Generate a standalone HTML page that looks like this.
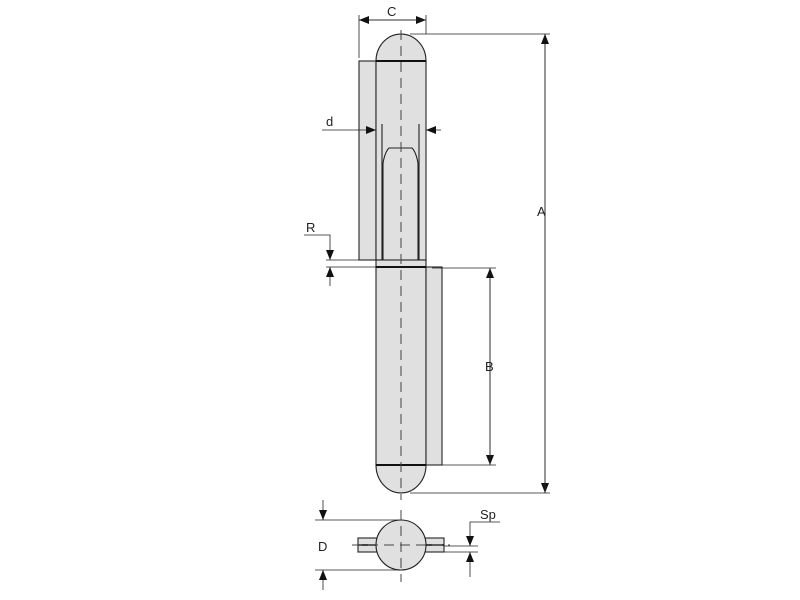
<!DOCTYPE html>
<html><head><meta charset="utf-8"><style>body{margin:0;background:#fff}svg{display:block}text{font-family:"Liberation Sans",sans-serif;font-size:13px;fill:#222}</style></head><body>
<svg width="800" height="600" viewBox="0 0 800 600" xmlns="http://www.w3.org/2000/svg">
<defs>
<marker id="ar" markerWidth="10" markerHeight="8" refX="10" refY="4" orient="auto" markerUnits="userSpaceOnUse"><path d="M0,0 L10,4 L0,8 Z" fill="#111"/></marker>
</defs>
<g stroke="#222" stroke-width="1.1" fill="#e0e0e0">
<rect x="359" y="61" width="17" height="199"/>
<rect x="376" y="61" width="50" height="199"/>
<path d="M376,61 A25,27 0 0 1 426,61 Z"/>
<line x1="382" y1="124" x2="382" y2="260"/>
<line x1="419" y1="124" x2="419" y2="260"/>
<path d="M383,260 V163 Q385,152 389,148 H412 Q416,152 418,163 V260" fill="#e0e0e0"/>
<rect x="376" y="260" width="50" height="7.5"/>
<rect x="376" y="267" width="50" height="198"/>
<rect x="426" y="267" width="16" height="198"/>
<path d="M376,465 A25,28 0 0 0 426,465 Z"/>
<rect x="358" y="538" width="86" height="14"/>
<circle cx="401" cy="545" r="25"/>
</g>
<g stroke="#111" stroke-width="2">
<line x1="376" y1="61" x2="426" y2="61"/>
<line x1="376" y1="267" x2="426" y2="267"/>
<line x1="376" y1="465" x2="426" y2="465"/>
<line x1="358" y1="545" x2="376" y2="545" stroke-width="1.5"/>
<line x1="426" y1="545" x2="444" y2="545" stroke-width="1.5"/>
</g>
<g stroke="#444" stroke-width="1" stroke-dasharray="10,6" fill="none">
<line x1="401" y1="30" x2="401" y2="500"/>
<line x1="401" y1="510" x2="401" y2="582"/>
<line x1="352" y1="545" x2="450" y2="545"/>
</g>
<g stroke="#222" stroke-width="0.8" fill="none">
<line x1="359" y1="15" x2="359" y2="58"/><line x1="426" y1="15" x2="426" y2="34"/>
<line x1="359" y1="20" x2="426" y2="20" marker-end="url(#ar)"/>
<line x1="426" y1="20" x2="359" y2="20" marker-end="url(#ar)"/>
<line x1="410" y1="34" x2="550" y2="34"/><line x1="410" y1="493" x2="550" y2="493"/>
<line x1="545" y1="34" x2="545" y2="493" marker-end="url(#ar)"/>
<line x1="545" y1="493" x2="545" y2="34" marker-end="url(#ar)"/>
<line x1="432" y1="268" x2="496" y2="268"/><line x1="432" y1="465" x2="496" y2="465"/>
<line x1="490" y1="268" x2="490" y2="465" marker-end="url(#ar)"/>
<line x1="490" y1="465" x2="490" y2="268" marker-end="url(#ar)"/>
<line x1="322" y1="130" x2="376" y2="130" marker-end="url(#ar)"/>
<line x1="441" y1="130" x2="426" y2="130" marker-end="url(#ar)"/>
<line x1="326" y1="260" x2="376" y2="260"/><line x1="326" y1="267" x2="376" y2="267"/>
<polyline points="304,235 330,235 330,260" marker-end="url(#ar)"/>
<line x1="330" y1="286" x2="330" y2="267" marker-end="url(#ar)"/>
<line x1="315" y1="520" x2="400" y2="520"/><line x1="315" y1="570" x2="400" y2="570"/>
<line x1="323" y1="500" x2="323" y2="520" marker-end="url(#ar)"/>
<line x1="323" y1="590" x2="323" y2="570" marker-end="url(#ar)"/>
<line x1="444" y1="546" x2="478" y2="546"/><line x1="444" y1="552" x2="478" y2="552"/>
<polyline points="500,522 470,522 470,546" marker-end="url(#ar)"/>
<line x1="470" y1="577" x2="470" y2="552" marker-end="url(#ar)"/>
</g>
<text x="387" y="16">C</text>
<text x="537" y="216">A</text>
<text x="485" y="371">B</text>
<text x="326" y="126">d</text>
<text x="306" y="232">R</text>
<text x="318" y="551">D</text>
<text x="480" y="519">Sp</text>
</svg>
</body></html>
